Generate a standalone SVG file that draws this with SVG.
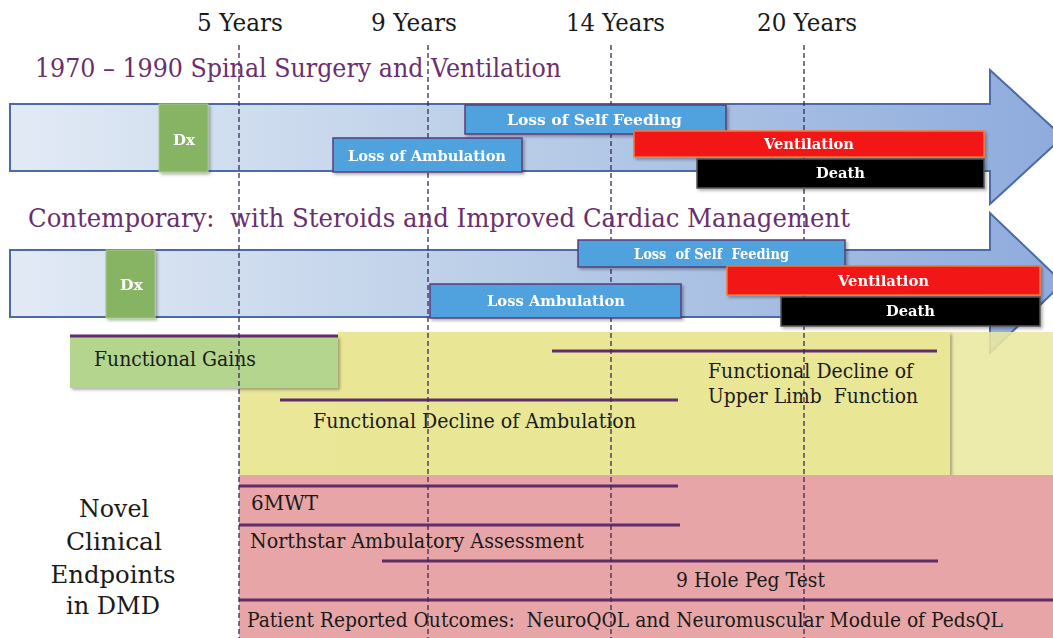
<svg xmlns="http://www.w3.org/2000/svg" width="1053" height="638" viewBox="0 0 1053 638">
<defs>
<linearGradient id="arrowGrad" x1="0" y1="0" x2="1" y2="0">
<stop offset="0" stop-color="#e2eaf5"/>
<stop offset="0.45" stop-color="#bccfe8"/>
<stop offset="1" stop-color="#8eabdd"/>
</linearGradient>
<filter id="sh" x="-10%" y="-20%" width="130%" height="150%">
<feDropShadow dx="2" dy="2" stdDeviation="1.5" flood-color="#000" flood-opacity="0.3"/>
</filter>
</defs>
<style>
.arrow{fill:url(#arrowGrad);stroke:#4a6aa8;stroke-width:2}
.year{font-family:"DejaVu Serif","Liberation Serif",serif;font-size:25px;fill:#1a1a1a}
.title{font-family:"DejaVu Serif","Liberation Serif",serif;font-size:26px;fill:#6a2f6e}
.body{font-family:"DejaVu Serif","Liberation Serif",serif;font-size:19.5px;fill:#1a1a1a}
.big{font-family:"DejaVu Serif","Liberation Serif",serif;font-size:25px;fill:#1a1a1a;text-anchor:middle}
.lbl{font-family:"DejaVu Serif","Liberation Serif",serif;font-size:14px;font-weight:bold;fill:#fff}
.blue{fill:#4fa2dd;stroke:#5b3d78;stroke-width:1.5}
.red{fill:#f21414;stroke:#f57a3a;stroke-width:1.5}
.black{fill:#000;stroke:#555;stroke-width:1.5}
.green{fill:#86b463;stroke:#a3c98a;stroke-width:1}
.bar{stroke:#5e2d6a;stroke-width:3}
.dash{stroke:#3b2a5c;stroke-width:1.3;stroke-dasharray:5,3}
</style>

<g id="arrow1"><path class="arrow" d="M10,104 H990 V70 L1063,137 L990,204 V171 H10 Z"/></g>
<g id="arrow2"><path class="arrow" d="M10,250 H990 V213 L1063,283 L990,353 V317 H10 Z"/></g>

<g id="yellow-region">
<rect x="950" y="332" width="103" height="143" fill="#ebe89f" fill-opacity="0.88"/>
<rect x="239" y="340" width="711" height="135" fill="#eae799"/>
<rect x="338" y="332" width="612" height="143" fill="#e9e696" filter="url(#sh)"/>
</g>
<g id="pink-region"><rect x="239" y="475" width="814" height="163" fill="#e8a5a7"/></g>
<g id="functional-gains">
<rect x="70" y="336" width="268" height="52" fill="#b4d58d" filter="url(#sh)"/>
<text class="body" x="94" y="366" textLength="162" lengthAdjust="spacingAndGlyphs">Functional Gains</text>
</g>

<g id="connectors">
<line class="bar" x1="70" y1="336" x2="338" y2="336"/>
<line class="bar" x1="552" y1="351" x2="937" y2="351"/>
<line class="bar" x1="280" y1="400" x2="678" y2="400"/>
<line class="bar" x1="239" y1="486" x2="678" y2="486"/>
<line class="bar" x1="239" y1="525" x2="680" y2="525"/>
<line class="bar" x1="382" y1="561" x2="938" y2="561"/>
<line class="bar" x1="239" y1="600" x2="1053" y2="600"/>
<line class="dash" x1="239" y1="45" x2="239" y2="638"/>
<line class="dash" x1="428" y1="45" x2="428" y2="638"/>
<line class="dash" x1="611" y1="45" x2="611" y2="638"/>
<line class="dash" x1="804" y1="45" x2="804" y2="638"/>
</g>

<g id="years">
<text class="year" x="197" y="31" textLength="86" lengthAdjust="spacingAndGlyphs">5 Years</text>
<text class="year" x="371" y="31" textLength="86" lengthAdjust="spacingAndGlyphs">9 Years</text>
<text class="year" x="566" y="31" textLength="99" lengthAdjust="spacingAndGlyphs">14 Years</text>
<text class="year" x="757" y="31" textLength="100" lengthAdjust="spacingAndGlyphs">20 Years</text>
</g>

<g id="titles">
<text class="title" x="35" y="77" textLength="526" lengthAdjust="spacingAndGlyphs">1970 – 1990 Spinal Surgery and Ventilation</text>
<text class="title" x="28" y="227" textLength="822" lengthAdjust="spacingAndGlyphs" xml:space="preserve">Contemporary:  with Steroids and Improved Cardiac Management</text>
</g>

<g id="dx1" filter="url(#sh)"><rect class="green" x="159" y="104" width="49" height="68"/><text class="lbl" x="173" y="145" textLength="22" lengthAdjust="spacingAndGlyphs">Dx</text></g>
<g id="loss-self-feeding-1" filter="url(#sh)"><rect class="blue" x="465" y="105" width="261" height="29"/><text class="lbl" x="507" y="125" textLength="175" lengthAdjust="spacingAndGlyphs">Loss of Self Feeding</text></g>
<g id="loss-ambulation-1" filter="url(#sh)"><rect class="blue" x="333" y="138" width="189" height="34"/><text class="lbl" x="348" y="161" textLength="158" lengthAdjust="spacingAndGlyphs">Loss of Ambulation</text></g>
<g id="ventilation-1" filter="url(#sh)"><rect class="red" x="634" y="131" width="350" height="26"/><text class="lbl" x="764" y="149" textLength="90" lengthAdjust="spacingAndGlyphs">Ventilation</text></g>
<g id="death-1" filter="url(#sh)"><rect class="black" x="697" y="159" width="287" height="29"/><text class="lbl" x="816" y="178" textLength="49" lengthAdjust="spacingAndGlyphs">Death</text></g>

<g id="dx2" filter="url(#sh)"><rect class="green" x="106" y="250" width="49" height="68"/><text class="lbl" x="120" y="290" textLength="23" lengthAdjust="spacingAndGlyphs">Dx</text></g>
<g id="loss-self-feeding-2" filter="url(#sh)"><rect class="blue" x="578" y="240" width="267" height="27"/><text class="lbl" x="634" y="259" textLength="155" lengthAdjust="spacingAndGlyphs" xml:space="preserve">Loss  of Self  Feeding</text></g>
<g id="loss-ambulation-2" filter="url(#sh)"><rect class="blue" x="430" y="284" width="251" height="34"/><text class="lbl" x="487" y="306" textLength="138" lengthAdjust="spacingAndGlyphs">Loss Ambulation</text></g>
<g id="ventilation-2" filter="url(#sh)"><rect class="red" x="727" y="266" width="313" height="29"/><text class="lbl" x="838" y="286" textLength="91" lengthAdjust="spacingAndGlyphs">Ventilation</text></g>
<g id="death-2" filter="url(#sh)"><rect class="black" x="781" y="297" width="259" height="29"/><text class="lbl" x="886" y="316" textLength="49" lengthAdjust="spacingAndGlyphs">Death</text></g>

<g id="decline-labels">
<text class="body" x="708" y="378" textLength="205" lengthAdjust="spacingAndGlyphs">Functional Decline of</text>
<text class="body" x="708" y="403" textLength="210" lengthAdjust="spacingAndGlyphs" xml:space="preserve">Upper Limb  Function</text>
<text class="body" x="313" y="428" textLength="323" lengthAdjust="spacingAndGlyphs">Functional Decline of Ambulation</text>
</g>

<g id="endpoints">
<text class="body" x="251" y="510" textLength="67" lengthAdjust="spacingAndGlyphs">6MWT</text>
<text class="body" x="250" y="548" textLength="334" lengthAdjust="spacingAndGlyphs">Northstar Ambulatory Assessment</text>
<text class="body" x="676" y="587" textLength="149" lengthAdjust="spacingAndGlyphs">9 Hole Peg Test</text>
<text class="body" x="247" y="627" textLength="756" lengthAdjust="spacingAndGlyphs" xml:space="preserve">Patient Reported Outcomes:  NeuroQOL and Neuromuscular Module of PedsQL</text>
</g>

<g id="novel-label">
<text class="big" x="114" y="517" textLength="70" lengthAdjust="spacingAndGlyphs">Novel</text>
<text class="big" x="114" y="550" textLength="96" lengthAdjust="spacingAndGlyphs">Clinical</text>
<text class="big" x="113" y="583" textLength="125" lengthAdjust="spacingAndGlyphs">Endpoints</text>
<text class="big" x="113" y="614" textLength="94" lengthAdjust="spacingAndGlyphs">in DMD</text>
</g>
</svg>
